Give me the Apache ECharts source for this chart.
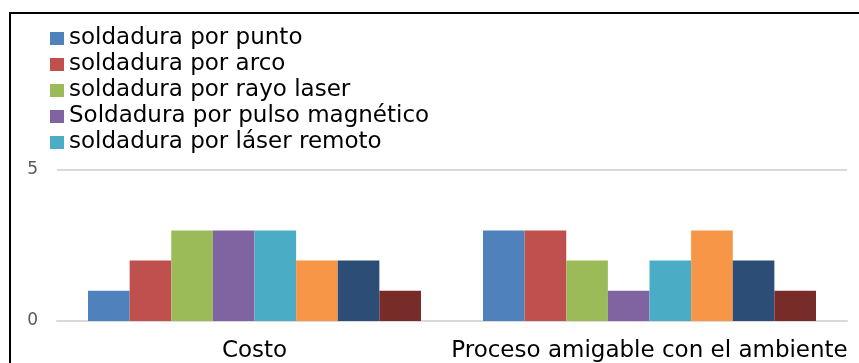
<!DOCTYPE html>
<html>
<head>
<meta charset="utf-8">
<script src="https://cdn.jsdelivr.net/npm/echarts@6/dist/echarts.min.js"></script>
<style>
html,body{margin:0;padding:0;background:#fff;}
#chart{width:859px;height:363px;}
</style>
</head>
<body>
<div id="chart"></div>
<script>
var categories = ['Costo', 'Proceso amigable con el ambiente'];
var seriesNames = ['soldadura por punto', 'soldadura por arco', 'soldadura por rayo laser', 'Soldadura por pulso magnético', 'soldadura por láser remoto', 'Serie 6', 'Serie 7', 'Serie 8'];
var legendNames = ['soldadura por punto', 'soldadura por arco', 'soldadura por rayo laser', 'Soldadura por pulso magnético', 'soldadura por láser remoto'];
var s1 = [1, 3];
var s2 = [2, 3];
var s3 = [3, 2];
var s4 = [3, 1];
var s5 = [3, 2];
var s6 = [2, 3];
var s7 = [2, 2];
var s8 = [1, 1];
var seriesValues = [s1, s2, s3, s4, s5, s6, s7, s8];
var colors = ['#4F81BD', '#C0504D', '#9BBB59', '#8064A2', '#4BACC6', '#F79646', '#2C4D75', '#772C2A'];
var yTicks = [0, 5];

var chart = echarts.init(document.getElementById('chart'));
var font = 'DejaVu Sans';
chart.setOption({
  animation: false,
  color: colors,
  textStyle: {fontFamily: font},
  graphic: [{
    type: 'rect',
    shape: {x: 10, y: 13, width: 1000, height: 1000},
    style: {fill: 'none', stroke: '#000', lineWidth: 2},
    z: 100
  }],
  legend: {
    data: legendNames,
    orient: 'vertical',
    left: 50,
    top: 27,
    icon: 'rect',
    itemWidth: 14,
    itemHeight: 13,
    itemGap: 3,
    padding: 0,
    textStyle: {fontFamily: font, fontSize: 23, lineHeight: 23, color: '#000'}
  },
  grid: {left: 57, right: 12, top: 170, bottom: 42},
  xAxis: {
    type: 'category',
    data: categories,
    axisLine: {lineStyle: {color: '#d9d9d9', width: 2}},
    axisTick: {show: false},
    axisLabel: {fontFamily: font, fontSize: 23, color: '#000', margin: 19, interval: 0}
  },
  yAxis: {
    type: 'value',
    min: yTicks[0],
    max: yTicks[yTicks.length - 1],
    interval: 5,
    axisLine: {show: false},
    axisTick: {show: false},
    splitLine: {lineStyle: {color: '#d9d9d9', width: 2}},
    axisLabel: {fontFamily: font, fontSize: 17, color: '#595959', margin: 19}
  },
  series: seriesNames.map(function (n, i) {
    return {
      name: n,
      type: 'bar',
      data: seriesValues[i],
      barGap: 0,
      barCategoryGap: '15.7%'
    };
  })
});
</script>
</body>
</html>
